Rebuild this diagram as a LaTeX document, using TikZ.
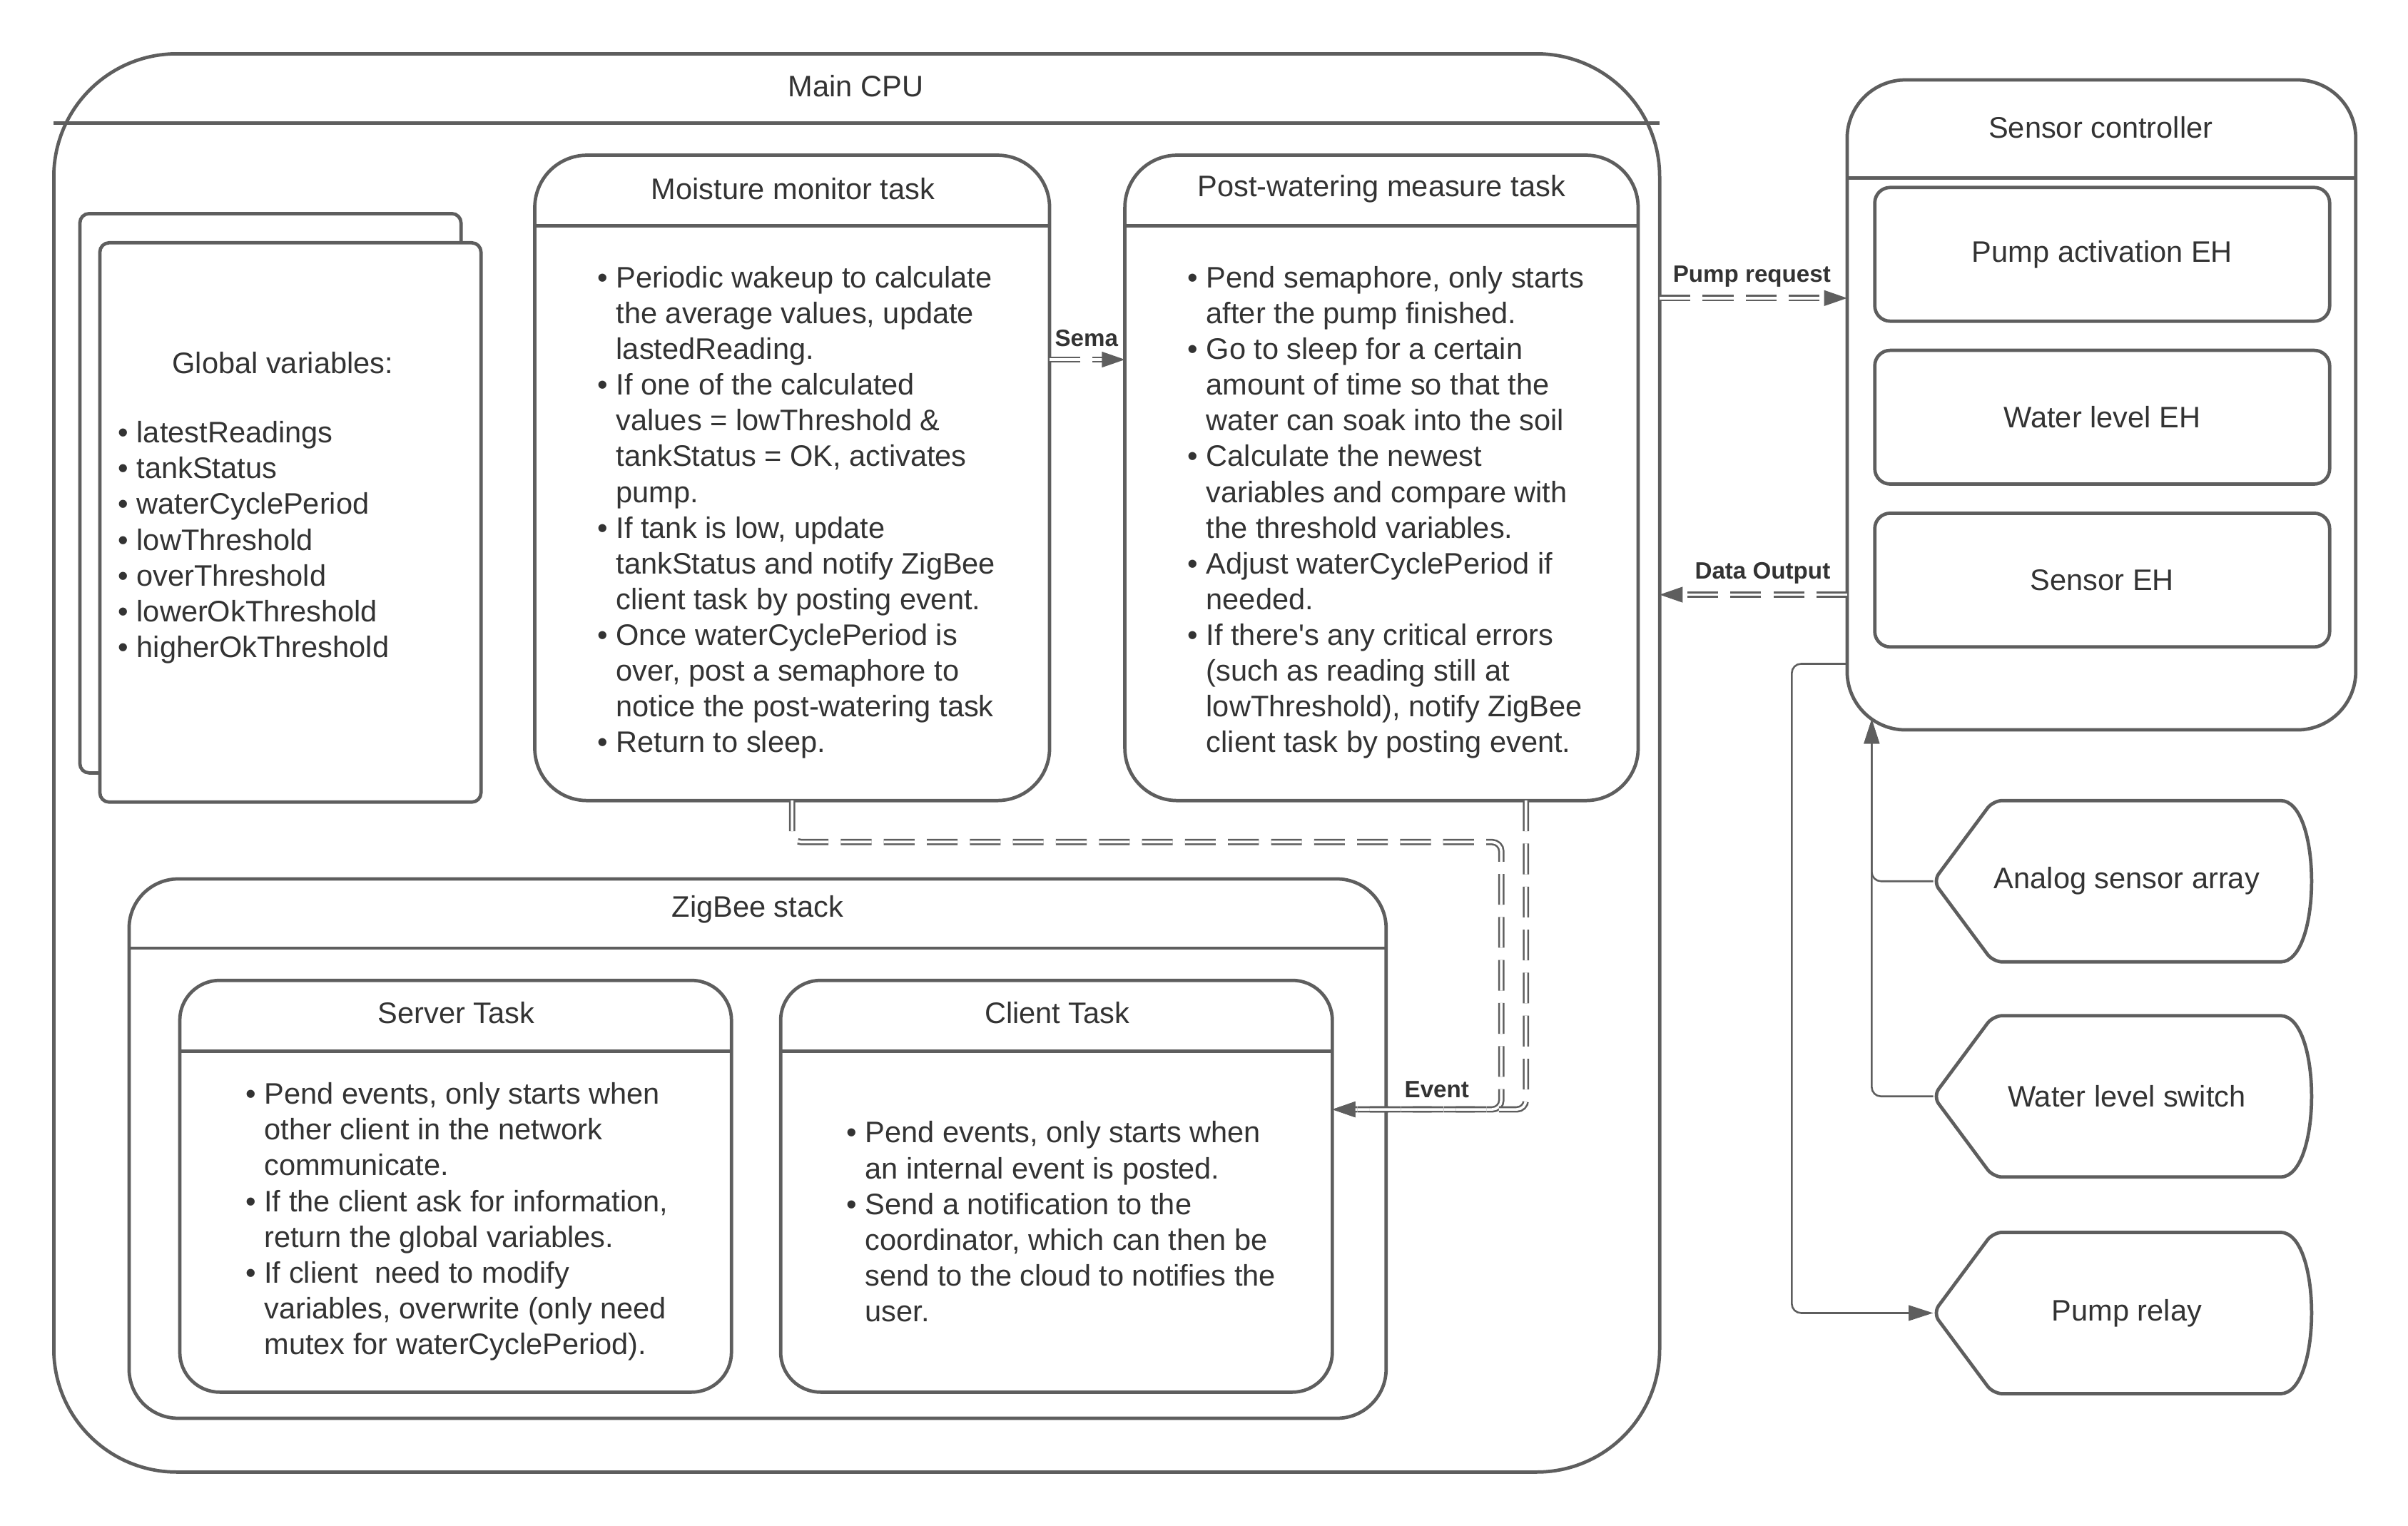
\documentclass[tikz,border=0pt]{standalone}
\usepackage{fontspec}
\setmainfont{Liberation Sans}
\usetikzlibrary{arrows.meta,calc,decorations.markings}
\definecolor{linegray}{HTML}{5E5E5E}
\definecolor{textgray}{HTML}{333333}
\newcommand{\bl}{\makebox[6pt][l]{\textbullet}}
\newcommand{\ct}{\hspace*{6pt}}
\begin{document}
\begin{tikzpicture}[x=0.5pt,y=-0.5pt,
  every node/.style={text=textgray,font=\fontsize{9.65}{11.63}\selectfont,inner sep=0pt,outer sep=0pt},
  box/.style={draw=linegray,line width=1.1pt},
  lbl/.style={font=\fontsize{7.7}{9}\selectfont\bfseries},
  dline/.style={draw=linegray,double=white,line width=0.6pt,double distance=0.85pt,
    dash pattern=on 10pt off 4pt,rounded corners=3pt,shorten >=4pt,
    postaction={decorate,decoration={markings,mark=at position 1 with
      {\fill[linegray,sharp corners] (0,0) -- (-7.5pt,2.6pt) -- (-7.5pt,-2.6pt) -- cycle;}}}},
  wire/.style={draw=linegray,line width=0.6pt,rounded corners=3pt,-{Triangle[length=8pt,width=5pt]}}]
\useasboundingbox (0,0) rectangle (1567,992.7);

% main cpu
\node[box,rounded corners=40pt,minimum width=522.5pt,minimum height=461.5pt] (cpu) at (557.5,496.5) {};
\node (cputitle) at (557,56) {Main CPU};
\draw[box] (cpu.west |- 0,80) -- (cpu.east |- 0,80);

% global variables
\node[box,rounded corners=3pt,minimum width=124pt,minimum height=182pt] (gvback) at (176,321) {};
\node[box,fill=white,rounded corners=3pt,minimum width=124pt,minimum height=182pt] (gvfront) at (189,340) {};
\node (gvtitle) at (184,236) {Global variables:};
\node[align=left,anchor=west] (gvlist) at (77,353) {\bl latestReadings\\ \bl tankStatus\\ \bl waterCyclePeriod\\
  \bl lowThreshold\\ \bl overThreshold\\ \bl lowerOkThreshold\\ \bl higherOkThreshold};

% tasks
\node[box,rounded corners=17pt,minimum width=167.5pt,minimum height=210pt] (moist) at (515.5,311) {};
\node (moisttitle) at (516,123) {Moisture monitor task};
\draw[box] (moist.west |- 0,147) -- (moist.east |- 0,147);
\node[align=left,anchor=west] (moistlist) at (389,333.5) {\bl Periodic wakeup to calculate\\ \ct the average values, update\\
  \ct lastedReading.\\ \bl If one of the calculated\\ \ct values = lowThreshold \&\\ \ct tankStatus = OK, activates\\
  \ct pump.\\ \bl If tank is low, update\\ \ct tankStatus and notify ZigBee\\ \ct client task by posting event.\\
  \bl Once waterCyclePeriod is\\ \ct over, post a semaphore to\\ \ct notice the post-watering task\\ \bl Return to sleep.};

\node[box,rounded corners=17pt,minimum width=167pt,minimum height=210pt] (post) at (899,311) {};
\node (posttitle) at (899,123) {Post-watering measure task};
\draw[box] (post.west |- 0,147) -- (post.east |- 0,147);
\node[align=left,anchor=west] (postlist) at (773,333.5) {\bl Pend semaphore, only starts\\ \ct after the pump finished.\\
  \bl Go to sleep for a certain\\ \ct amount of time so that the\\ \ct water can soak into the soil\\
  \bl Calculate the newest\\ \ct variables and compare with\\ \ct the threshold variables.\\
  \bl Adjust waterCyclePeriod if\\ \ct needed.\\ \bl If there\textquotesingle s any critical errors\\ \ct (such as reading still at\\
  \ct lowThreshold), notify ZigBee\\ \ct client task by posting event.};

% zigbee stack
\node[box,rounded corners=16pt,minimum width=409pt,minimum height=175.5pt] (zig) at (493,747.5) {};
\node (zigtitle) at (493,592) {ZigBee stack};
\draw[box] (zig.west |- 0,617) -- (zig.east |- 0,617);

\node[box,rounded corners=13pt,minimum width=179.5pt,minimum height=134pt] (server) at (296.5,772) {};
\node (servertitle) at (297,659) {Server Task};
\draw[box] (server.west |- 0,684) -- (server.east |- 0,684);
\node[align=left,anchor=west] (serverlist) at (160,795) {\bl Pend events, only starts when\\ \ct other client in the network\\
  \ct communicate.\\ \bl If the client ask for information,\\ \ct return the global variables.\\
  \bl If client~ need to modify\\ \ct variables, overwrite (only need\\ \ct mutex for waterCyclePeriod).};

\node[box,rounded corners=13pt,minimum width=179.5pt,minimum height=134pt] (client) at (687.5,772) {};
\node (clienttitle) at (688,659) {Client Task};
\draw[box] (client.west |- 0,684) -- (client.east |- 0,684);
\node[align=left,anchor=west] (clientlist) at (551,795) {\bl Pend events, only starts when\\ \ct an internal event is posted.\\
  \bl Send a notification to the\\ \ct coordinator, which can then be\\ \ct send to the cloud to notifies the\\ \ct user.};

% sensor controller
\node[box,rounded corners=19pt,minimum width=165.5pt,minimum height=211.5pt] (sensorc) at (1367.5,263.5) {};
\node (sensorctitle) at (1367,83) {Sensor controller};
\draw[box] (sensorc.west |- 0,116) -- (sensorc.east |- 0,116);
\node[box,rounded corners=5pt,minimum width=148pt,minimum height=43.5pt] (pumpeh) at (1368,165.5) {Pump activation EH};
\node[box,rounded corners=5pt,minimum width=148pt,minimum height=43.5pt] (wateh) at (1368,271.5) {Water level EH};
\node[box,rounded corners=5pt,minimum width=148pt,minimum height=43.5pt] (senseh) at (1368,377.5) {Sensor EH};

% devices
\node[minimum width=122.5pt,minimum height=52.5pt] (ana) at (1380.5,573.5) {\hspace*{3.5pt}Analog sensor array};
\node[minimum width=122.5pt,minimum height=52.5pt] (wls) at (1380.5,713.5) {\hspace*{3.5pt}Water level switch};
\node[minimum width=122.5pt,minimum height=52.5pt] (rly) at (1380.5,854.5) {\hspace*{3.5pt}Pump relay};
\foreach \n in {ana,wls,rly}
  \draw[box,rounded corners=3pt] (\n.west) -- ([xshift=19.5pt]\n.north west) -- ([xshift=-12.5pt]\n.north east)
    .. controls ([xshift=4pt]\n.north east) and ([xshift=4pt]\n.south east) .. ([xshift=-12.5pt]\n.south east)
    -- ([xshift=19.5pt]\n.south west) -- cycle;

% connectors
\draw[dline] ([yshift=38.5pt]moist.east) -- ([yshift=38.5pt]post.west);
\node[lbl] (semalbl) at (707,220) {Sema};
\draw[dline] ([yshift=151.25pt]cpu.east) -- ([yshift=34.75pt]sensorc.west);
\node[lbl] (pumplbl) at (1140,180) {Pump request};
\draw[dline] ([yshift=-61.75pt]sensorc.west) -- ([yshift=54.75pt]cpu.east);
\node[lbl] (datalbl) at (1147,373) {Data Output};
\coordinate (evin) at ([yshift=25pt]client.east);
\draw[dline] (moist.south) |- (977,548) |- (evin);
\draw[dline] ([xshift=47pt]post.south) |- (evin);
\node[lbl] (eventlbl) at (935,709) {Event};

\coordinate (sin) at ([xshift=-74.75pt,yshift=3.5pt]sensorc.south);
\draw[wire] (ana.west) -| (sin);
\draw[wire] (wls.west) -| (sin);
\coordinate (sout) at ([yshift=-84.25pt]sensorc.west);
\draw[wire] (sout) -- ++(-36,0) |- (rly.west);
\end{tikzpicture}
\end{document}
